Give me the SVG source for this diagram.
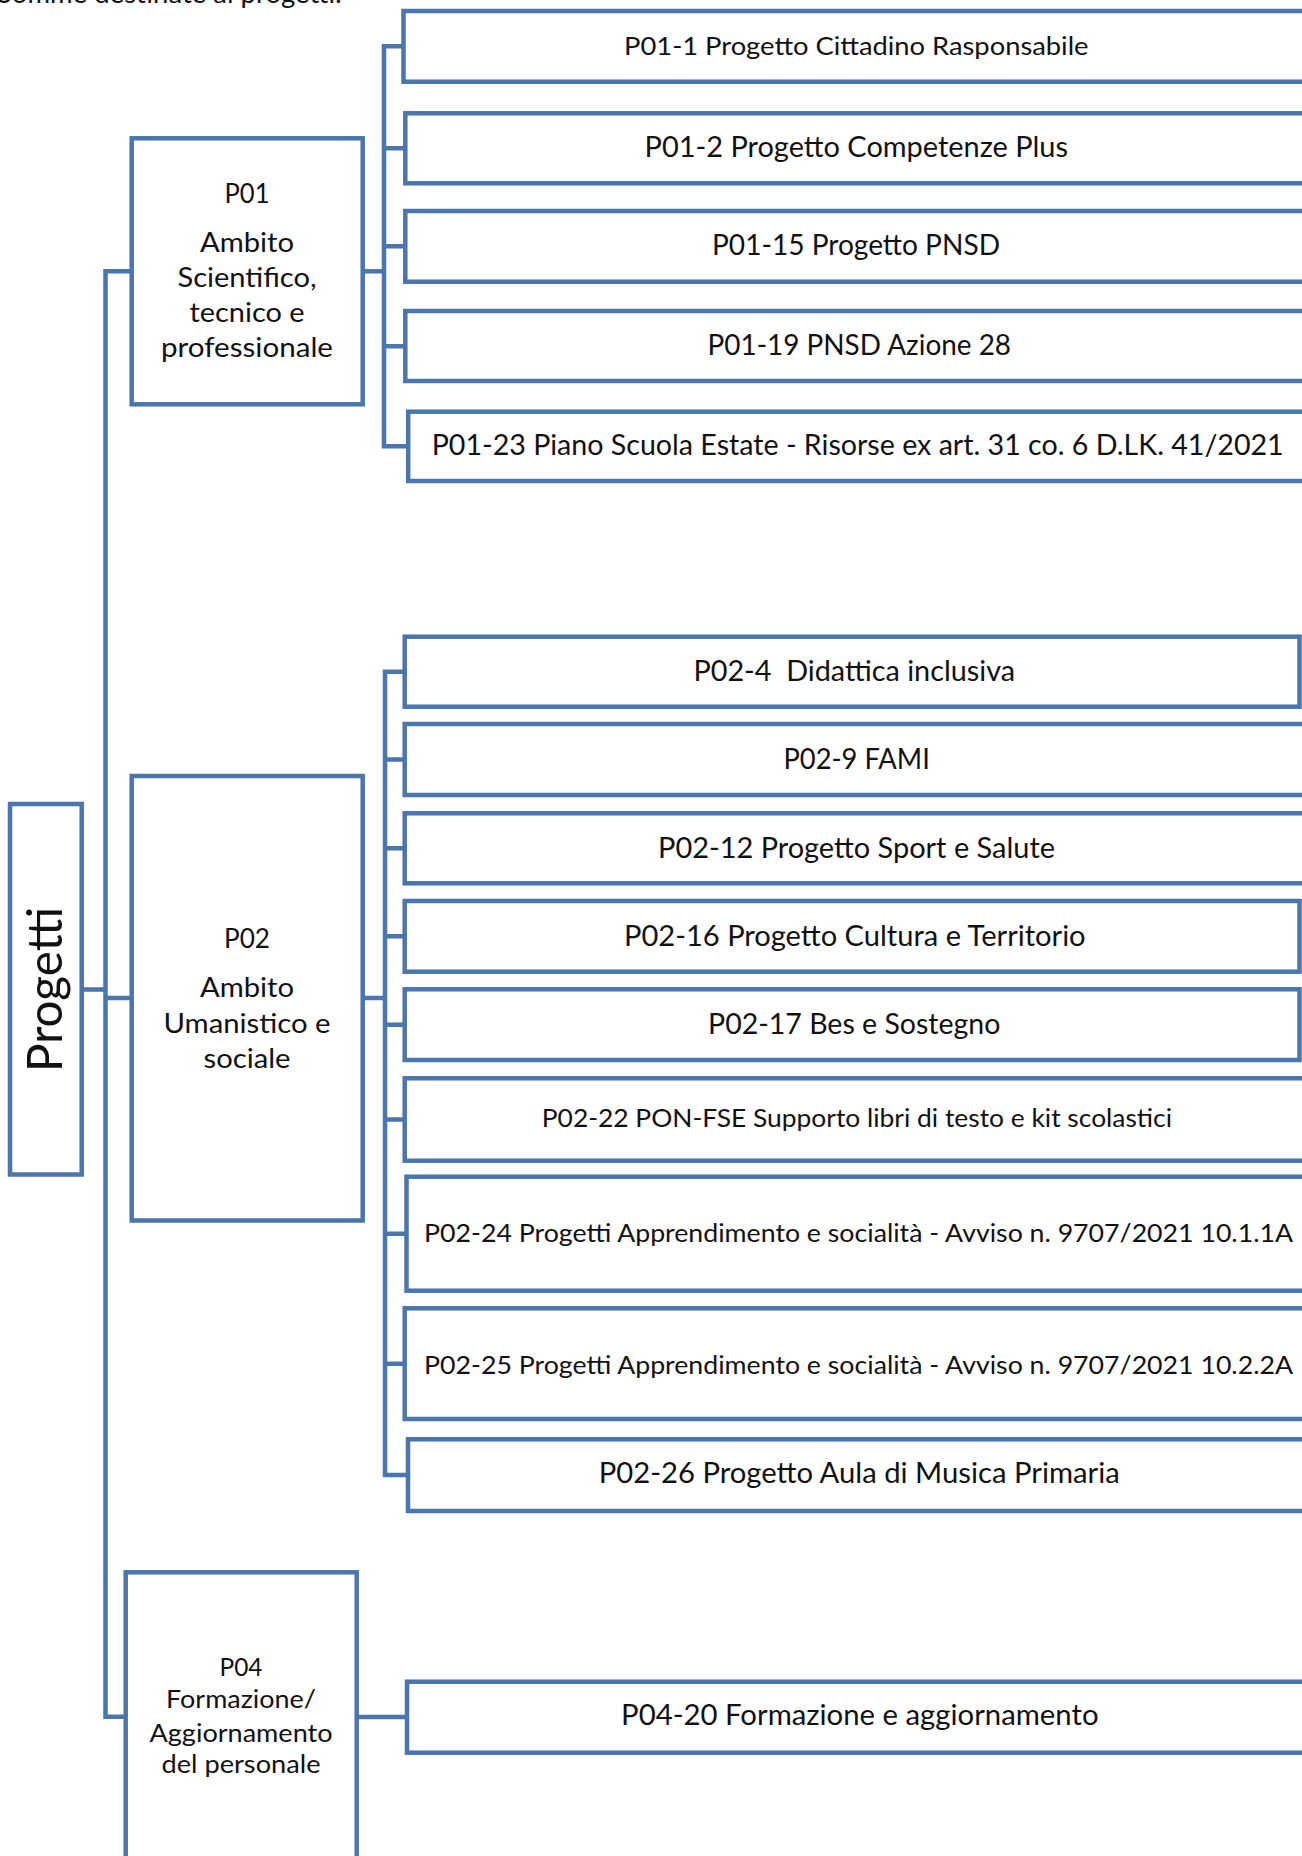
<svg xmlns="http://www.w3.org/2000/svg" width="1302" height="1856" viewBox="0 0 1302 1856">
<style>
  .box { fill: #ffffff; stroke: #4A75AD; stroke-width: 4.5; }
  .conn { fill: none; stroke: #4A75AD; stroke-width: 4.5; stroke-linejoin: miter; }
  .t { font-family: Lato, "Liberation Sans", sans-serif; fill: #111111; text-anchor: middle; }
  .c { font-size: 28.5px; }
  .s { font-size: 25.5px; }
  .l { font-size: 26px; }
</style>
<rect x="0" y="0" width="1302" height="1856" fill="#ffffff"/>
<text x="-3" y="2.5" font-family="Lato, 'Liberation Sans', sans-serif" font-size="27" fill="#111111" textLength="345" lengthAdjust="spacingAndGlyphs">Somme destinate ai progetti:</text>

<g id="connectors">
  <path class="conn" d="M131.7,271.3 H105.5 V1716.7 H125.7"/>
  <path class="conn" d="M81.7,989.5 H105.5"/>
  <path class="conn" d="M105.5,998 H131.7"/>
  <path class="conn" d="M362.7,271.3 H386"/>
  <path class="conn" d="M403.5,46.3 H384 V446.3 H408.2 M384,148.3 H405.3 M384,246.3 H405.3 M384,346.3 H405.3"/>
  <path class="conn" d="M362.7,998 H387"/>
  <path class="conn" d="M404.7,671.7 H385 V1475 H408 M385,759.5 H404.7 M385,848.3 H404.7 M385,936.3 H404.7 M385,1024.7 H404.7 M385,1119.5 H404.7 M385,1233.7 H406.5 M385,1363.7 H404.7"/>
  <path class="conn" d="M356.7,1717 H407"/>
</g>

<g id="progetti">
  <rect class="box" x="10" y="804" width="71.7" height="370.5"/>
  <text class="t" transform="translate(61.7,989.5) rotate(-90)" x="0" y="0" font-size="49" textLength="165" lengthAdjust="spacingAndGlyphs">Progetti</text>
</g>

<g id="P01">
  <rect class="box" x="131.7" y="138.3" width="231" height="266"/>
  <text class="t l" x="247" y="203.3" textLength="45" lengthAdjust="spacingAndGlyphs">P01</text>
  <text class="t l" x="247" y="251.7" textLength="94" lengthAdjust="spacingAndGlyphs">Ambito</text>
  <text class="t l" x="247" y="287.3" textLength="139" lengthAdjust="spacingAndGlyphs">Scientifico,</text>
  <text class="t l" x="247" y="322.3" textLength="115" lengthAdjust="spacingAndGlyphs">tecnico e</text>
  <text class="t l" x="247" y="356.7" textLength="172" lengthAdjust="spacingAndGlyphs">professionale</text>
</g>

<g id="P02">
  <rect class="box" x="131.7" y="776" width="231" height="444.5"/>
  <text class="t l" x="247" y="948" textLength="46" lengthAdjust="spacingAndGlyphs">P02</text>
  <text class="t l" x="247" y="997" textLength="94" lengthAdjust="spacingAndGlyphs">Ambito</text>
  <text class="t l" x="247" y="1033" textLength="167" lengthAdjust="spacingAndGlyphs">Umanistico e</text>
  <text class="t l" x="247" y="1068" textLength="87" lengthAdjust="spacingAndGlyphs">sociale</text>
</g>

<g id="P04">
  <rect class="box" x="125.7" y="1572.3" width="231" height="300"/>
  <text class="t" font-size="25" x="241" y="1676" textLength="43" lengthAdjust="spacingAndGlyphs">P04</text>
  <text class="t" font-size="25" x="241" y="1708" textLength="150" lengthAdjust="spacingAndGlyphs">Formazione/</text>
  <text class="t" font-size="25" x="241" y="1741.5" textLength="183" lengthAdjust="spacingAndGlyphs">Aggiornamento</text>
  <text class="t" font-size="25" x="241" y="1773.4" textLength="159" lengthAdjust="spacingAndGlyphs">del personale</text>
</g>

<g id="P01-1">
  <rect class="box" x="403.5" y="11" width="920" height="70.7"/>
  <text class="t" font-size="25.5" x="856.3" y="55" textLength="464.5" lengthAdjust="spacingAndGlyphs">P01-1 Progetto Cittadino Rasponsabile</text>
</g>
<g id="P01-2">
  <rect class="box" x="405.3" y="113.3" width="920" height="70"/>
  <text class="t c" x="856.3" y="156.7" textLength="423.4" lengthAdjust="spacingAndGlyphs">P01-2 Progetto Competenze Plus</text>
</g>
<g id="P01-15">
  <rect class="box" x="405.3" y="211" width="920" height="70.7"/>
  <text class="t c" x="856" y="255" textLength="288" lengthAdjust="spacingAndGlyphs">P01-15 Progetto PNSD</text>
</g>
<g id="P01-19">
  <rect class="box" x="405.3" y="311" width="920" height="70"/>
  <text class="t c" x="859.3" y="355" textLength="303.5" lengthAdjust="spacingAndGlyphs">P01-19 PNSD Azione 28</text>
</g>
<g id="P01-23">
  <rect class="box" x="408.2" y="411.7" width="920" height="69.3"/>
  <text class="t c" x="857.7" y="455" textLength="852" lengthAdjust="spacingAndGlyphs">P01-23 Piano Scuola Estate - Risorse ex art. 31 co. 6 D.LK. 41/2021</text>
</g>

<g id="P02-4">
  <rect class="box" x="404.7" y="636.7" width="894.8" height="70"/>
  <text class="t c" x="854.2" y="681.4" textLength="321.6" lengthAdjust="spacingAndGlyphs" xml:space="preserve">P02-4  Didattica inclusiva</text>
</g>
<g id="P02-9">
  <rect class="box" x="404.7" y="724" width="920" height="71"/>
  <text class="t c" x="856.6" y="769" textLength="146.4" lengthAdjust="spacingAndGlyphs">P02-9 FAMI</text>
</g>
<g id="P02-12">
  <rect class="box" x="404.7" y="813.3" width="920" height="70"/>
  <text class="t c" x="856.5" y="857.5" textLength="397" lengthAdjust="spacingAndGlyphs">P02-12 Progetto Sport e Salute</text>
</g>
<g id="P02-16">
  <rect class="box" x="404.7" y="901" width="894.8" height="70.7"/>
  <text class="t c" x="854.8" y="946.2" textLength="461.6" lengthAdjust="spacingAndGlyphs">P02-16 Progetto Cultura e Territorio</text>
</g>
<g id="P02-17">
  <rect class="box" x="404.7" y="989.3" width="894.8" height="70.7"/>
  <text class="t c" x="854.2" y="1033.9" textLength="292.3" lengthAdjust="spacingAndGlyphs">P02-17 Bes e Sostegno</text>
</g>
<g id="P02-22">
  <rect class="box" x="404.7" y="1078.3" width="920" height="82.4"/>
  <text class="t" font-size="24.5" x="856.9" y="1126.8" textLength="630.3" lengthAdjust="spacingAndGlyphs">P02-22 PON-FSE Supporto libri di testo e kit scolastici</text>
</g>
<g id="P02-24">
  <rect class="box" x="406.5" y="1176.7" width="920" height="114"/>
  <text class="t s" x="858.5" y="1242.3" textLength="869" lengthAdjust="spacingAndGlyphs">P02-24 Progetti Apprendimento e socialità - Avviso n. 9707/2021 10.1.1A</text>
</g>
<g id="P02-25">
  <rect class="box" x="404.7" y="1308.3" width="920" height="110.7"/>
  <text class="t s" x="858.5" y="1374" textLength="869" lengthAdjust="spacingAndGlyphs">P02-25 Progetti Apprendimento e socialità - Avviso n. 9707/2021 10.2.2A</text>
</g>
<g id="P02-26">
  <rect class="box" x="408" y="1439.3" width="920" height="71.7"/>
  <text class="t c" x="859.2" y="1483.3" textLength="521" lengthAdjust="spacingAndGlyphs">P02-26 Progetto Aula di Musica Primaria</text>
</g>

<g id="P04-20">
  <rect class="box" x="407" y="1681.7" width="920" height="71"/>
  <text class="t c" x="859.8" y="1725" textLength="477.5" lengthAdjust="spacingAndGlyphs">P04-20 Formazione e aggiornamento</text>
</g>
</svg>
